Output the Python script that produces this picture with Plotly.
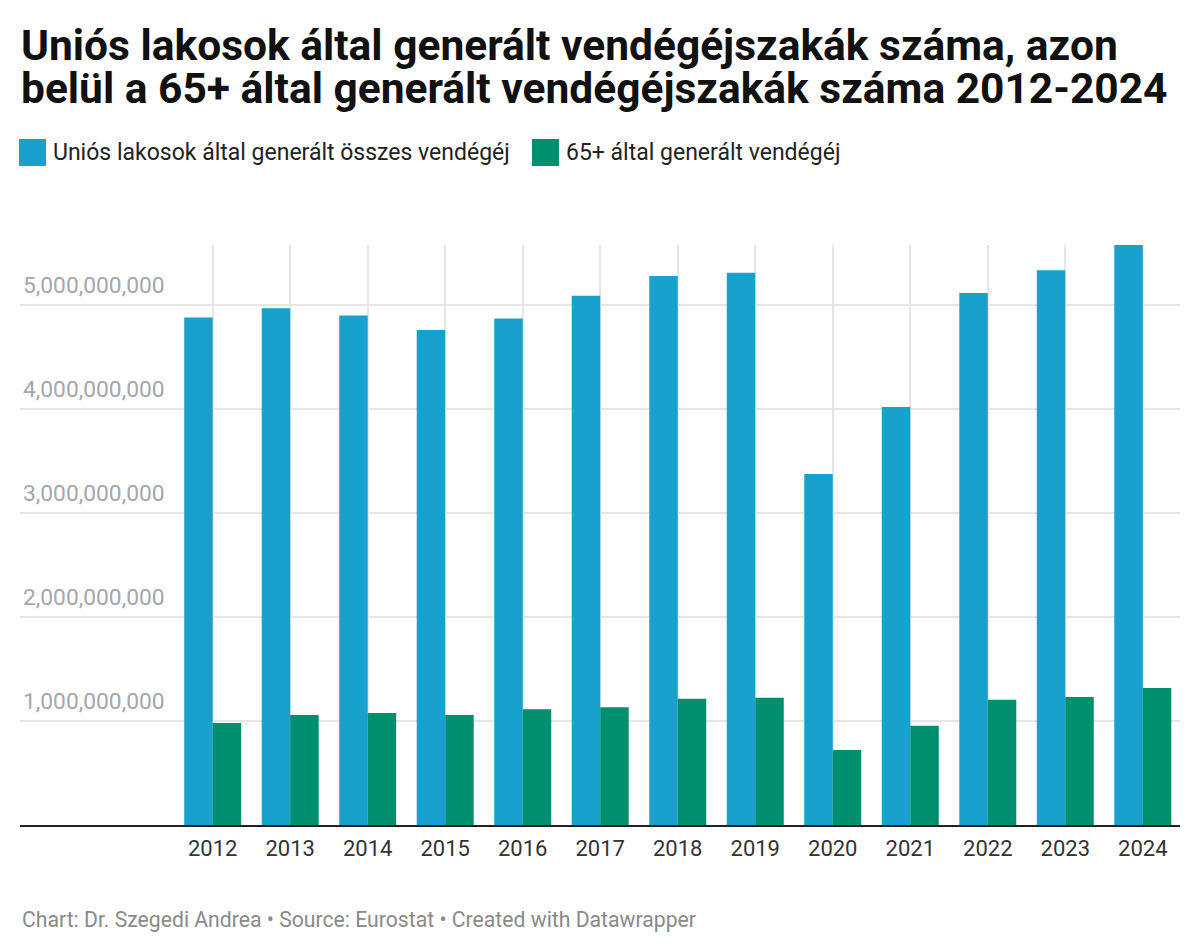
import plotly.graph_objects as go

years = [2012, 2013, 2014, 2015, 2016, 2017, 2018, 2019, 2020, 2021, 2022, 2023, 2024]
total_nights = [4.88e9, 4.97e9, 4.90e9, 4.76e9, 4.87e9, 5.09e9, 5.28e9, 5.31e9,
                3.375e9, 4.02e9, 5.115e9, 5.335e9, 5.577e9]
senior_nights = [0.98e9, 1.058e9, 1.077e9, 1.058e9, 1.112e9, 1.132e9, 1.214e9, 1.224e9,
                 0.72e9, 0.955e9, 1.205e9, 1.231e9, 1.317e9]
y_ticks = [1e9, 2e9, 3e9, 4e9, 5e9]
y_labels = ['1,000,000,000', '2,000,000,000', '3,000,000,000', '4,000,000,000', '5,000,000,000']

names = ['Uniós lakosok által generált összes vendégéj', '65+ által generált vendégéj']
colors = ['#18a1cd', '#008f6f']
title_lines = ['Uniós lakosok által generált vendégéjszakák száma, azon',
               'belül a 65+ által generált vendégéjszakák száma 2012-2024']

W, H = 1200, 952
L, R, T, B = 20, 20, 245, 127
pw, ph = W - L - R, H - T - B


def px(x):
    return (x - L) / pw


def py(y):
    return (H - B - y) / ph


fig = go.Figure()
for vals, name, col in zip([total_nights, senior_nights], names, colors):
    fig.add_trace(go.Bar(x=years, y=vals, name=name, marker_color=col,
                         marker_line_width=0, showlegend=False))

fig.update_layout(
    width=W, height=H,
    margin=dict(l=L, r=R, t=T, b=B),
    paper_bgcolor='white', plot_bgcolor='white',
    barmode='group', bargap=0.265, bargroupgap=0,
    font=dict(family='Roboto', color='#333333'),
    xaxis=dict(
        range=[2009.514, 2024.48], tickvals=years, ticktext=[str(y) for y in years],
        showgrid=True, gridcolor='#e6e6e6', gridwidth=1.5,
        showline=True, linecolor='#222222', linewidth=2,
        ticks='outside', ticklen=3, tickcolor='rgba(0,0,0,0)',
        tickfont=dict(size=22, color='#333333'), zeroline=False),
    yaxis=dict(
        range=[0, max(total_nights)], tickvals=y_ticks, ticktext=y_labels,
        ticklabelposition='inside top', ticklabelshift=-4,
        showgrid=True, gridcolor='#e6e6e6', gridwidth=1.5,
        tickfont=dict(size=22.8, color='#a6a6a6'), zeroline=False, showline=False),
)

# title, two lines
for line, ymid in zip(title_lines, [45, 89]):
    fig.add_annotation(text='<b>' + line + '</b>', xref='paper', yref='paper',
                       x=px(19), y=py(ymid), xanchor='left', yanchor='middle',
                       showarrow=False, font=dict(size=42.5, color='#111111'))

# legend swatches and labels
legend_x = [[19, 46], [532, 559]]
for (x0, x1), name, col in zip(legend_x, names, colors):
    fig.add_shape(type='rect', xref='paper', yref='paper',
                  x0=px(x0), x1=px(x1), y0=py(166), y1=py(139),
                  fillcolor=col, line_width=0)
    fig.add_annotation(text=name, xref='paper', yref='paper', x=px(x1 + 5), y=py(153),
                       xanchor='left', yanchor='middle', showarrow=False,
                       font=dict(size=23, color='#222222'))

fig.add_annotation(text='Chart: Dr. Szegedi Andrea • Source: Eurostat • Created with Datawrapper',
                   xref='paper', yref='paper', x=px(20), y=py(919),
                   xanchor='left', yanchor='middle', showarrow=False,
                   font=dict(size=21.2, color='#8a8a8a'))

fig.write_html('out.html', config={'displayModeBar': False},
               post_script="document.body.style.margin='0';")
